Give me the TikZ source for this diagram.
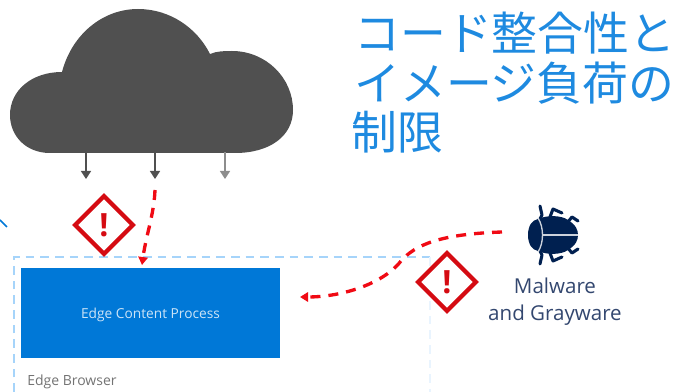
\documentclass[tikz,border=0pt]{standalone}
\usepackage{fontspec}
\setmainfont{Open Sans}
\newfontfamily\jpfont{Noto Sans CJK JP}
\usetikzlibrary{arrows.meta,shapes.geometric}
\definecolor{cloudgrey}{HTML}{505050}
\definecolor{msblue}{HTML}{0078D7}
\definecolor{titleblue}{HTML}{1E8AE0}
\definecolor{lightdash}{HTML}{A6D4FA}
\definecolor{warnred}{HTML}{D50B12}
\definecolor{attackred}{HTML}{F00A14}
\definecolor{bugnavy}{HTML}{002050}
\definecolor{labelnavy}{HTML}{33476F}
\tikzset{
  x=0.75pt,y=-0.75pt,
  warn/.style={diamond,draw=warnred,line width=3.2pt,fill=white,minimum width=44.5pt,minimum height=44.5pt,inner sep=0pt,aspect=1,text=warnred,font=\bfseries\fontsize{24}{24}\selectfont},
  rainarrow/.style={draw=cloudgrey,line width=1.1pt,-{Triangle[length=6pt,width=7.5pt]}},
  attack/.style={draw=attackred,line width=2.5pt,dash pattern=on 7.5pt off 6pt,-{Triangle[length=6pt,width=7pt]}},
  jptitle/.style={text=titleblue,anchor=base west,inner sep=0pt,font=\jpfont\fontsize{34.4}{34.4}\selectfont},
  buglabel/.style={text=labelnavy,font=\fontsize{15.4}{15.4}\selectfont,inner sep=0pt},
  bugleg/.style={draw=bugnavy,line width=2.3pt,line cap=round,line join=round},
}
\begin{document}
\begin{tikzpicture}
\useasboundingbox (0,0) rectangle (676,392);
% browser frame
\draw[lightdash,line width=1pt,dash pattern=on 6.5pt off 4.5pt] (14,392) -- (14,257) -- (430,257);
\draw[lightdash!25,line width=1pt,dash pattern=on 6.5pt off 4.5pt] (430,257) -- (430,392);
% content process
\node[fill=msblue,minimum width=194.25pt,minimum height=67.5pt,inner sep=0pt] (content) at (150.5,313) {};
\node[inner sep=0pt,text=white!80!msblue,font=\fontsize{10.3}{10.3}\selectfont] (contentlabel) at (150.5,315) {Edge Content Process};
\node[anchor=west,inner sep=0pt,text=black!55,font=\fontsize{10.5}{10.5}\selectfont] (browser) at (27,382) {Edge Browser};
% cloud
\fill[cloudgrey] (50,153) .. controls (26,153) and (10,136) .. (10,115)
  .. controls (10,90) and (32,72) .. (62,72)
  .. controls (72,34) and (103,9) .. (138,9)
  .. controls (170,9) and (197,28) .. (210,54)
  .. controls (217,51) and (225,51) .. (232,51)
  .. controls (266,51) and (293,78) .. (293,110)
  .. controls (293,136) and (270,153) .. (235,153) -- cycle;
\coordinate (cloudA) at (86,152);
\coordinate (cloudB) at (155,152);
\coordinate (cloudC) at (225,152);
\coordinate (rainA) at (86,179);
\coordinate (rainB) at (155,179);
\coordinate (rainC) at (225,179);
\draw[rainarrow] (cloudA) -- (rainA);
\draw[rainarrow] (cloudB) -- (rainB);
\draw[rainarrow,draw=cloudgrey!65] (cloudC) -- (rainC);
% warnings
\node[warn] (warnA) at (104,225) {!};
\node[warn] (warnB) at (447,282) {!};
% attacks
\coordinate (dlStart) at (155,190);
\coordinate (dlEnd) at (142,265);
\draw[attack] (dlStart) .. controls (154,215) and (146,235) .. (dlEnd);
% bug
\coordinate (bugC) at (553,235);
\begin{scope}[shift={(bugC)}]
  \draw[bugleg] (-13,-29) -- (-11,-20) -- (-14,-14);
  \draw[bugleg] (-3,-18) -- (0,-26) -- (9,-22);
  \draw[bugleg] (14,-12) -- (19,-18) -- (25,-14);
  \draw[bugleg] (-13,29) -- (-11,20) -- (-14,14);
  \draw[bugleg] (-3,18) -- (0,26) -- (9,22);
  \draw[bugleg] (14,12) -- (19,18) -- (25,14);
  \fill[bugnavy] (-25,0) .. controls (-25,-9) and (-21,-15) .. (-15,-16)
    .. controls (-6,-20) and (8,-20) .. (15,-15)
    .. controls (23,-10) and (25,-5) .. (25,0)
    .. controls (25,5) and (23,10) .. (15,15)
    .. controls (8,20) and (-6,20) .. (-15,16)
    .. controls (-21,15) and (-25,9) .. (-25,0) -- cycle;
  \draw[white!80!bugnavy,line width=1pt] (-15,-17) .. controls (-9,-8) and (-9,8) .. (-15,17);
  \draw[white!80!bugnavy,line width=0.9pt] (-10,0) -- (25,0);
\end{scope}
\node[minimum size=1pt,inner sep=0pt] (bug) at (bugC) {};
\coordinate (malStart) at (502,232);
\coordinate (malEnd) at (300,297);
\draw[attack] (malStart) .. controls (440,234) and (415,245) .. (401,261)
  .. controls (385,282) and (345,297) .. (malEnd);
% labels
\node[buglabel] (malA) at (555,286) {Malware};
\node[buglabel] (malB) at (555,315) {and Grayware};
% title
\node[jptitle] (t1) at (354,51) {コード整合性と};
\node[jptitle] (t2) at (354,101) {イメージ負荷の};
\node[jptitle] (t3) at (351,150) {制限};
% stray mark at the left edge
\draw[msblue,line width=1.2pt] (0,220) -- (7,227);
\end{tikzpicture}
\end{document}
